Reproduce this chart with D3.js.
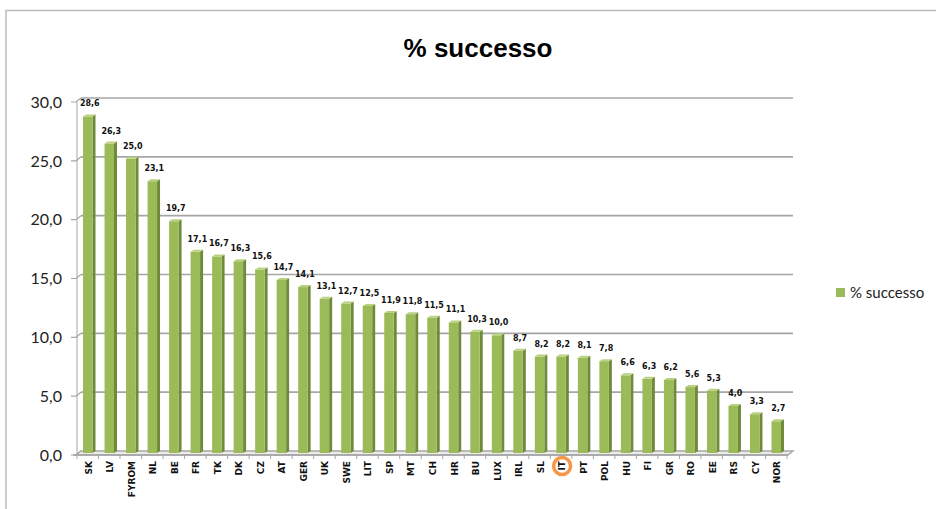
<!DOCTYPE html>
<html lang="it">
<head>
<meta charset="UTF-8">
<title>% successo</title>
<script src="https://d3js.org/d3.v7.min.js"></script>
<style>
  body { margin: 0; background: #fff; }
  svg { display: block; }
</style>
</head>
<body>
<div id="chart"></div>
<script>
// data
const countries = ["SK", "LV", "FYROM", "NL", "BE", "FR", "TK", "DK", "CZ", "AT", "GER", "UK", "SWE", "LIT", "SP",
  "MT", "CH", "HR", "BU", "LUX", "IRL", "SL", "IT", "PT", "POL", "HU", "FI", "GR", "RO", "EE", "RS", "CY", "NOR"];
const successo = [28.6, 26.3, 25.0, 23.1, 19.7, 17.1, 16.7, 16.3, 15.6, 14.7, 14.1, 13.1, 12.7, 12.5, 11.9,
  11.8, 11.5, 11.1, 10.3, 10.0, 8.7, 8.2, 8.2, 8.1, 7.8, 6.6, 6.3, 6.2, 5.6, 5.3, 4.0, 3.3, 2.7];
const yTicks = [0, 5, 10, 15, 20, 25, 30];
const highlighted = "IT";

const width = 936, height = 509;
const fmt = v => d3.format(".1f")(v).replace(".", ",");

const svg = d3.select("#chart").append("svg")
  .attr("width", width)
  .attr("height", height);

// outer frame (only top and left edges are visible)
svg.append("path")
  .attr("d", "M6,509 V10.5 H936")
  .attr("fill", "none")
  .attr("stroke", "#bcbcbc")
  .attr("stroke-width", 1.5);

// 3D depth of the plot walls
const depth = { dx: 5, dy: -4 };

const x = d3.scaleBand()
  .domain(countries)
  .range([76, 786])
  .paddingInner(0.56)
  .paddingOuter(0.28);

// front scale and back-wall scale
const yFront = d3.scaleLinear().domain([0, 30]).range([455, 102]);
const yBack = d3.scaleLinear().domain([0, 30]).range([455 + depth.dy, 102 + depth.dy]);
const yBar = d3.scaleLinear().domain([0, 30]).range([453, 100]);

const xLeft = x.range()[0], xRight = x.range()[1];

// gridlines on the back wall
svg.append("g").selectAll("line")
  .data(yTicks.filter(d => d > 0))
  .join("line")
  .attr("x1", xLeft + depth.dx)
  .attr("x2", xRight + depth.dx + 2)
  .attr("y1", d => yBack(d))
  .attr("y2", d => yBack(d))
  .attr("stroke", "#a6a6a6")
  .attr("stroke-width", 1.6);

// left wall: front axis line, back edge and the connectors
const wall = svg.append("g").attr("fill", "none").attr("stroke", "#a6a6a6");
wall.append("line")
  .attr("x1", xLeft + 1).attr("x2", xLeft + 1)
  .attr("y1", yFront(30)).attr("y2", yFront(0))
  .attr("stroke-width", 1);
wall.selectAll(".conn")
  .data(yTicks)
  .join("path")
  .attr("class", "conn")
  .attr("d", d => `M${xLeft - 5},${yFront(d)} H${xLeft} L${xLeft + depth.dx},${yBack(d)}`)
  .attr("stroke-width", 1.2);

// floor
const floorFront = yFront(0), floorBack = yBack(0);
svg.append("path")
  .attr("d", `M${xLeft},${floorFront} L${xLeft + depth.dx},${floorBack} H${xRight + depth.dx + 2} L${xRight + 2},${floorFront} Z`)
  .attr("fill", "#ececec")
  .attr("stroke", "#a6a6a6")
  .attr("stroke-width", 1.4);
svg.append("line")
  .attr("x1", xLeft - 3).attr("x2", xRight + 2)
  .attr("y1", floorFront).attr("y2", floorFront)
  .attr("stroke", "#a6a6a6")
  .attr("stroke-width", 1.6);

// x ticks between categories
const step = x.step();
svg.append("g").selectAll("line")
  .data(d3.range(countries.length + 1))
  .join("line")
  .attr("x1", i => xLeft + i * step + 1)
  .attr("x2", i => xLeft + i * step + 1)
  .attr("y1", floorFront)
  .attr("y2", floorFront + 4)
  .attr("stroke", "#a6a6a6")
  .attr("stroke-width", 1);

// y tick labels
svg.append("g").selectAll("text")
  .data(yTicks)
  .join("text")
  .attr("x", 62)
  .attr("y", d => yFront(d))
  .attr("dy", "0.36em")
  .attr("text-anchor", "end")
  .attr("font-family", "Lato, 'Liberation Sans', sans-serif")
  .attr("font-size", 16)
  .attr("fill", "#222")
  .text(fmt);

// 3D columns
const bar = { dx: 3, dy: -2 };
const rows = countries.map((c, i) => ({ c, v: successo[i] }));
const cols = svg.append("g").selectAll("g")
  .data(rows)
  .join("g")
  .attr("transform", d => `translate(${x(d.c) + 1},0)`);

const bw = x.bandwidth();
// side face
cols.append("path")
  .attr("d", d => `M${bw},${yBar(d.v)} L${bw + bar.dx},${yBar(d.v) + bar.dy} V${yBar(0) + bar.dy} L${bw},${yBar(0)} Z`)
  .attr("fill", "#6f8a3a");
// front face
cols.append("rect")
  .attr("x", 0)
  .attr("y", d => yBar(d.v))
  .attr("width", bw)
  .attr("height", d => yBar(0) - yBar(d.v))
  .attr("fill", "#9bbb59");
// top face
cols.append("path")
  .attr("d", d => `M0,${yBar(d.v)} L${bar.dx},${yBar(d.v) + bar.dy} H${bw + bar.dx} L${bw},${yBar(d.v)} Z`)
  .attr("fill", "#b9d17f");

// value labels
svg.append("g").selectAll("text")
  .data(rows)
  .join("text")
  .attr("x", d => x(d.c) + bw / 2 + 3)
  .attr("y", d => yBar(d.v) - 10)
  .attr("text-anchor", "middle")
  .attr("font-family", "'DejaVu Sans', Verdana, sans-serif")
  .attr("font-weight", "bold")
  .attr("font-size", 8)
  .attr("fill", "#111")
  .text(d => fmt(d.v));

// category labels, rotated
svg.append("g").selectAll("text")
  .data(countries)
  .join("text")
  .attr("transform", c => `translate(${x(c) + bw / 2 + 5},461) rotate(-90)`)
  .attr("text-anchor", "end")
  .attr("font-family", "'DejaVu Sans', Verdana, sans-serif")
  .attr("font-weight", "bold")
  .attr("font-size", 9)
  .attr("fill", "#111")
  .text(c => c);

// orange ring around the highlighted country
svg.append("circle")
  .attr("cx", x(highlighted) + bw / 2 + 2)
  .attr("cy", 466)
  .attr("r", 8.5)
  .attr("fill", "none")
  .attr("stroke", "#f79646")
  .attr("stroke-width", 3.5);

// title
svg.append("text")
  .attr("x", 478)
  .attr("y", 57)
  .attr("text-anchor", "middle")
  .attr("font-family", "'Liberation Sans', Arial, sans-serif")
  .attr("font-weight", "bold")
  .attr("font-size", 26)
  .attr("fill", "#000")
  .text("% successo");

// legend
const legend = svg.append("g").attr("transform", "translate(836,288)");
legend.append("rect")
  .attr("width", 9)
  .attr("height", 9)
  .attr("fill", "#9bbb59");
legend.append("text")
  .attr("x", 14)
  .attr("y", 4.5)
  .attr("dy", "0.36em")
  .attr("font-family", "Lato, 'Liberation Sans', sans-serif")
  .attr("font-size", 15)
  .attr("fill", "#222")
  .text("% successo");
</script>
</body>
</html>
